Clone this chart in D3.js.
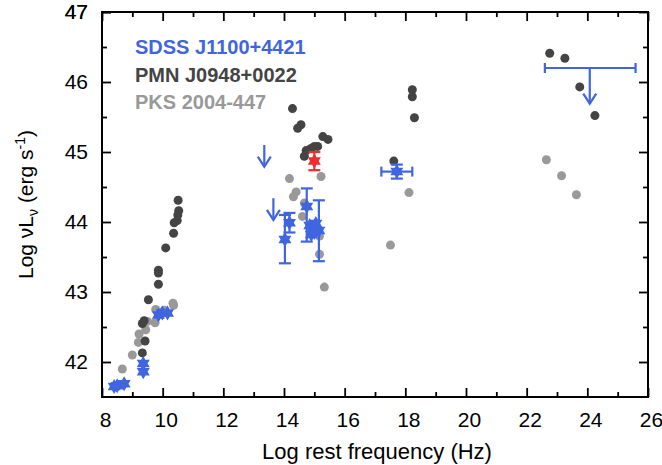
<!DOCTYPE html>
<meta charset="utf-8">
<style>
body { margin: 0; background: #fff; }
text { font-family: Arial, "Liberation Sans", sans-serif; }
</style>

<svg width="662" height="465"></svg>

<script src="https://d3js.org/d3.v7.min.js"></script>
<script>

// PMN J0948+0022 (dark grey dots)
var pmnX = [10.51, 10.53, 10.5, 10.48, 10.38, 10.36, 10.1, 9.86, 9.86, 9.86, 9.53, 9.39, 9.33, 9.42, 9.33,
            14.28, 14.56, 14.45, 15.28, 15.45, 15.0, 14.89, 15.11, 14.73, 14.67,
            18.23, 18.23, 18.3, 17.62,
            22.76, 23.26, 23.75, 24.25];
var pmnY = [44.31, 44.16, 44.1, 44.02, 43.99, 43.84, 43.63, 43.31, 43.27, 43.11, 42.89, 42.59, 42.55, 42.3, 42.13,
            45.62, 45.39, 45.34, 45.22, 45.18, 45.08, 45.05, 45.08, 45.02, 44.94,
            45.89, 45.79, 45.49, 44.87,
            46.41, 46.34, 45.93, 45.52];

// PKS 2004-447 (light grey dots)
var pksX = [10.34, 10.36, 9.77, 10.05, 9.5, 9.75, 9.44, 9.22, 9.2, 9.0, 8.67,
            14.18, 15.22, 14.4, 14.31, 14.67, 14.61, 15.17, 15.17, 15.33,
            18.12, 17.51,
            22.65, 23.15, 23.64];
var pksY = [42.84, 42.81, 42.75, 42.74, 42.58, 42.56, 42.46, 42.4, 42.28, 42.1, 41.9,
            44.62, 44.65, 44.43, 44.36, 44.27, 44.08, 43.8, 43.54, 43.07,
            44.42, 43.67,
            44.89, 44.66, 44.39];

// SDSS J1100+4421 (blue stars) with error bars
var sdssX    = [8.4, 8.5, 8.73, 9.36, 9.36, 9.86, 9.99, 10.16,
                14.18, 14.03, 14.75, 14.85, 14.95, 15.05, 15.15, 14.9, 15.0, 17.72];
var sdssY    = [41.65, 41.66, 41.69, 41.98, 41.86, 42.67, 42.7, 42.7,
                43.99, 43.75, 44.22, 43.95, 43.9, 43.98, 43.88, 43.82, 43.85, 44.72];
var sdssErrHi = [0, 0, 0, 0, 0, 0, 0, 0,
                 0.14, 0.35, 0.26, 0, 0, 0, 0.43, 0, 0, 0.1];
var sdssErrLo = [0, 0, 0, 0, 0, 0, 0, 0,
                 0.14, 0.34, 0.5, 0, 0, 0, 0.44, 0, 0, 0.1];
var sdssXErr  = [0, 0, 0, 0, 0, 0, 0, 0,
                 0, 0, 0, 0, 0, 0, 0, 0, 0, 0.51];

// SDSS J1100+4421 upper limits
var limX   = [13.35, 13.65, 24.08];
var limY   = [45.1, 44.34, 46.2];
var limTip = [44.79, 44.03, 45.69];
var limXLo = [null, null, 22.6];
var limXHi = [null, null, 25.59];

// red star
var redX = [15.0], redY = [44.87], redErr = [0.13];

var legendNames = ["SDSS J1100+4421", "PMN J0948+0022", "PKS 2004-447"];
var legendColors = ["#3f66e0", "#444444", "#999999"];

var xTicks = d3.range(8, 27, 2);
var yTicks = d3.range(42, 48, 1);

var svg = d3.select("svg"),
    margin = {top: 12, right: 14, bottom: 68, left: 102},
    width = +svg.attr("width") - margin.left - margin.right,
    height = +svg.attr("height") - margin.top - margin.bottom;

var x = d3.scaleLinear().domain([8, 26]).range([0, width]);
var y = d3.scaleLinear().domain([41.5, 47]).range([height, 0]);

var g = svg.append("g").attr("transform", "translate(" + margin.left + "," + margin.top + ")");

var blue = legendColors[0], red = "#ee2e2e";

// axes: major ticks labelled, minor ticks inward, mirrored on top/right
function style(ax) {
  ax.select(".domain").remove();
  ax.selectAll("line").attr("stroke", "#000").attr("stroke-width", 1.8);
  ax.selectAll("text").attr("font-size", 21).attr("fill", "#000");
}
g.append("g").attr("transform", "translate(0," + height + ")")
  .call(d3.axisBottom(x).tickValues(xTicks).tickSize(-9).tickPadding(15).tickFormat(d3.format("d"))).call(style)
  .selectAll("text").attr("dx", 3);
g.append("g").attr("transform", "translate(0," + height + ")")
  .call(d3.axisBottom(x).tickValues(d3.range(9, 26, 2)).tickSize(-5).tickFormat("")).call(style);
g.append("g")
  .call(d3.axisTop(x).tickValues(xTicks).tickSize(-9).tickFormat("")).call(style);
g.append("g")
  .call(d3.axisTop(x).tickValues(d3.range(9, 26, 2)).tickSize(-5).tickFormat("")).call(style);
g.append("g")
  .call(d3.axisLeft(y).tickValues(yTicks.concat([47])).tickSize(-9).tickPadding(14).tickFormat(d3.format("d"))).call(style);
g.append("g")
  .call(d3.axisLeft(y).tickValues(d3.range(41.5, 47, 1).slice(1)).tickSize(-5).tickFormat("")).call(style);
g.append("g").attr("transform", "translate(" + width + ",0)")
  .call(d3.axisRight(y).tickValues(yTicks).tickSize(-9).tickFormat("")).call(style);
g.append("g").attr("transform", "translate(" + width + ",0)")
  .call(d3.axisRight(y).tickValues(d3.range(42.5, 47, 1)).tickSize(-5).tickFormat("")).call(style);

g.append("rect").attr("width", width).attr("height", height)
  .attr("fill", "none").attr("stroke", "#000").attr("stroke-width", 2);

// axis titles
svg.append("text")
  .attr("x", margin.left + width / 2 + 2).attr("y", 459)
  .attr("text-anchor", "middle").attr("font-size", 22)
  .text("Log rest frequency (Hz)");

var yt = svg.append("text")
  .attr("transform", "translate(33," + (margin.top + height / 2) + ") rotate(-90)")
  .attr("text-anchor", "middle").attr("font-size", 21);
yt.append("tspan").text("Log  \u03bdL");
yt.append("tspan").attr("font-size", 14).attr("dy", 5).text("\u03bd");
yt.append("tspan").attr("dy", -5).text(" (erg s");
yt.append("tspan").attr("font-size", 14).attr("dy", -8).text("-1");
yt.append("tspan").attr("dy", 8).text(")");

// legend
g.selectAll(".leg").data(legendNames).enter().append("text")
  .attr("x", 33).attr("y", (d, i) => 42 + i * 27.5)
  .attr("font-size", 20).attr("font-weight", "bold")
  .attr("fill", (d, i) => legendColors[i])
  .text(d => d);

// dots
g.append("g").selectAll("circle").data(d3.range(pksX.length)).enter().append("circle")
  .attr("cx", i => x(pksX[i])).attr("cy", i => y(pksY[i])).attr("r", 4.5)
  .attr("fill", "#999999");
g.append("g").selectAll("circle").data(d3.range(pmnX.length)).enter().append("circle")
  .attr("cx", i => x(pmnX[i])).attr("cy", i => y(pmnY[i])).attr("r", 4.5)
  .attr("fill", "#444444");

// six-pointed star
function hexagram(r) {
  var pts = [];
  for (var k = 0; k < 12; k++) {
    var a = k * Math.PI / 6 - Math.PI / 2, rr = k % 2 ? r / Math.sqrt(3) : r;
    pts.push([rr * Math.cos(a), rr * Math.sin(a)]);
  }
  return "M" + pts.join("L") + "Z";
}

function errorBars(sel, color, xs, ys, hi, lo, xe) {
  var eb = sel.append("g").attr("stroke", color).attr("stroke-width", 2.2).attr("fill", "none");
  xs.forEach(function(xv, i) {
    var cx = x(xv), cy = y(ys[i]);
    if (hi[i] || lo[i]) {
      var y1 = y(ys[i] + hi[i]), y2 = y(ys[i] - lo[i]);
      eb.append("line").attr("x1", cx).attr("x2", cx).attr("y1", y1).attr("y2", y2);
      eb.append("line").attr("x1", cx - 6).attr("x2", cx + 6).attr("y1", y1).attr("y2", y1);
      eb.append("line").attr("x1", cx - 6).attr("x2", cx + 6).attr("y1", y2).attr("y2", y2);
    }
    if (xe && xe[i]) {
      var x1 = x(xv - xe[i]), x2 = x(xv + xe[i]);
      eb.append("line").attr("x1", x1).attr("x2", x2).attr("y1", cy).attr("y2", cy);
      eb.append("line").attr("x1", x1).attr("x2", x1).attr("y1", cy - 5).attr("y2", cy + 5);
      eb.append("line").attr("x1", x2).attr("x2", x2).attr("y1", cy - 5).attr("y2", cy + 5);
    }
  });
}

errorBars(g, blue, sdssX, sdssY, sdssErrHi, sdssErrLo, sdssXErr);
g.append("g").selectAll("path").data(d3.range(sdssX.length)).enter().append("path")
  .attr("transform", i => "translate(" + x(sdssX[i]) + "," + y(sdssY[i]) + ")")
  .attr("d", hexagram(7.5)).attr("fill", blue);

errorBars(g, red, redX, redY, redErr, redErr, null);
g.append("g").selectAll("path").data(d3.range(redX.length)).enter().append("path")
  .attr("transform", i => "translate(" + x(redX[i]) + "," + y(redY[i]) + ")")
  .attr("d", hexagram(7.5)).attr("fill", red);

// upper limits
var lim = g.append("g").attr("stroke", blue).attr("stroke-width", 2.2).attr("fill", "none");
limX.forEach(function(xv, i) {
  var cx = x(xv), y0 = y(limY[i]), y1 = y(limTip[i]);
  lim.append("line").attr("x1", cx).attr("x2", cx).attr("y1", y0).attr("y2", y1);
  lim.append("polyline").attr("points", [[cx - 6.5, y1 - 10], [cx, y1], [cx + 6.5, y1 - 10]].join(" "));
  if (limXLo[i] != null) {
    var x1 = x(limXLo[i]), x2 = x(limXHi[i]);
    lim.append("line").attr("x1", x1).attr("x2", x2).attr("y1", y0).attr("y2", y0);
    lim.append("line").attr("x1", x1).attr("x2", x1).attr("y1", y0 - 5).attr("y2", y0 + 5);
    lim.append("line").attr("x1", x2).attr("x2", x2).attr("y1", y0 - 5).attr("y2", y0 + 5);
  }
});

</script>
